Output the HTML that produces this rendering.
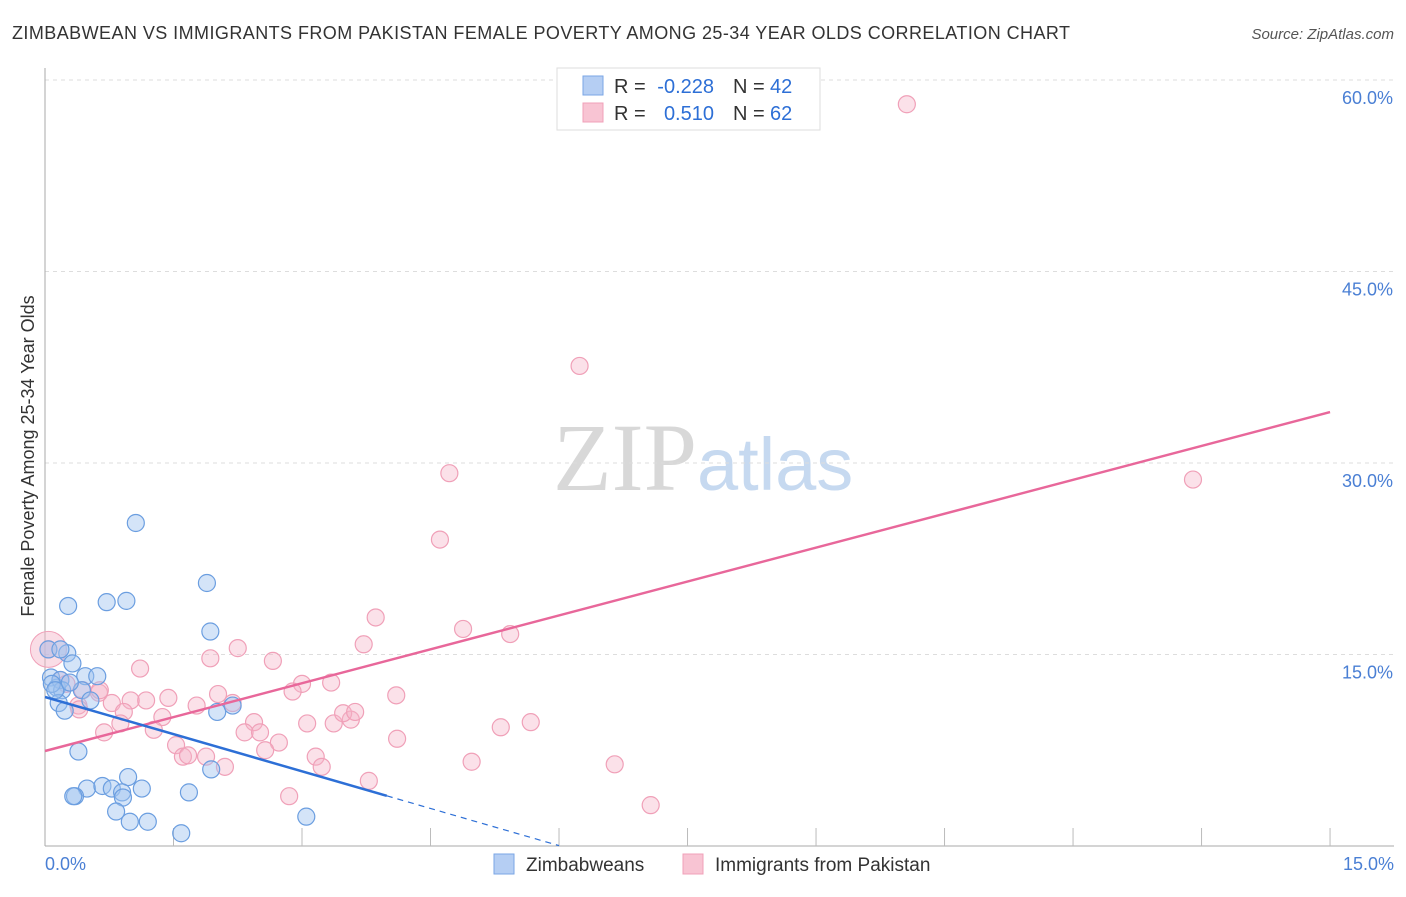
<!DOCTYPE html>
<html><head><meta charset="utf-8"><style>
body{margin:0;background:#fff;font-family:"Liberation Sans",sans-serif;}
svg text{font-family:"Liberation Sans",sans-serif;}
</style></head><body>
<svg id="chart" width="1406" height="892" xmlns="http://www.w3.org/2000/svg">
<text x="12" y="39" font-size="18" fill="#333" textLength="1058" lengthAdjust="spacing">ZIMBABWEAN VS IMMIGRANTS FROM PAKISTAN FEMALE POVERTY AMONG 25-34 YEAR OLDS CORRELATION CHART</text>
<text x="1394" y="39" font-size="15" fill="#555" text-anchor="end" font-style="italic">Source: ZipAtlas.com</text>
<text x="553" y="490" font-size="96"><tspan font-family="Liberation Serif" fill="#d8d8d8">ZIP</tspan><tspan fill="#c6d9f0" font-size="74">atlas</tspan></text>
<g id="grid"></g>
<g id="axes"></g>
<text transform="translate(34,456) rotate(-90)" font-size="18" fill="#333" text-anchor="middle">Female Poverty Among 25-34 Year Olds</text>
<g id="marks"></g>
<g>
<rect x="557" y="68" width="263" height="62" fill="#fff" stroke="#ddd"/>
<rect x="583" y="76" width="20" height="19" fill="#b5cef3" stroke="#7aa6e6"/>
<rect x="583" y="103" width="20" height="19" fill="#f8c4d3" stroke="#f0a0b8"/>
<text x="614" y="93" font-size="20" fill="#333">R =</text>
<text x="714" y="93" font-size="20" fill="#2d6fd6" text-anchor="end">-0.228</text>
<text x="733" y="93" font-size="20" fill="#333">N =</text>
<text x="770" y="93" font-size="20" fill="#2d6fd6">42</text>
<text x="614" y="120" font-size="20" fill="#333">R =</text>
<text x="714" y="120" font-size="20" fill="#2d6fd6" text-anchor="end">0.510</text>
<text x="733" y="120" font-size="20" fill="#333">N =</text>
<text x="770" y="120" font-size="20" fill="#2d6fd6">62</text>
</g>
<g>
<rect x="494" y="854" width="20" height="20" fill="#b5cef3" stroke="#7aa6e6"/>
<text x="526" y="871" font-size="19" fill="#333">Zimbabweans</text>
<rect x="683" y="854" width="20" height="20" fill="#f8c4d3" stroke="#f0a0b8"/>
<text x="715" y="871" font-size="19" fill="#333">Immigrants from Pakistan</text>
</g>
</svg>
<script>
const yTicks=[15,30,45,60];
const xTickLabels=["0.0%","15.0%"];
const blueX=[1.06,.27,.72,.95,1.89,1.93,.26,.32,.04,.07,.14,.18,.20,.47,.61,.43,.16,.23,2.01,2.19,.39,.49,.35,.33,.67,.78,.97,.90,.91,1.13,.83,.99,1.20,1.59,1.68,1.94,3.05,.08,.12,.29,.53,.18];
const blueY=[25.3,18.8,19.1,19.2,20.6,16.8,15.1,14.3,15.4,13.2,12.4,13.0,12.2,13.3,13.3,12.2,11.2,10.6,10.5,11.0,7.4,4.5,3.9,3.9,4.7,4.5,5.4,4.2,3.8,4.5,2.7,1.9,1.9,1.0,4.2,6.0,2.3,12.7,12.2,12.8,11.4,15.4];
const pinkX=[10.06,6.24,4.72,13.40,4.61,3.86,3.72,4.88,5.43,2.25,1.93,2.66,1.11,.04,4.10,3.00,3.34,2.89,2.02,2.19,1.77,1.44,1.18,1.00,.78,.63,.44,.39,.40,.92,1.37,1.27,.88,.69,2.44,2.33,2.51,2.73,2.57,3.06,3.37,3.57,3.48,3.62,1.53,1.61,1.67,1.88,2.10,3.16,3.23,4.11,5.32,5.67,4.98,3.78,2.85,6.65,7.07,.18,.64,.25];
const pinkY=[58.1,37.6,29.2,28.7,24.0,17.9,15.8,17.0,16.6,15.5,14.7,14.5,13.9,15.4,11.8,12.7,12.8,12.1,11.9,11.2,11.0,11.6,11.4,11.4,11.2,12.0,12.2,11.0,10.7,10.5,10.1,9.1,9.6,8.9,9.7,8.9,8.9,8.1,7.5,9.6,9.6,9.9,10.4,10.5,7.9,7.0,7.1,7.0,6.2,7.0,6.2,8.4,9.3,9.7,6.6,5.1,3.9,6.4,3.2,13.0,12.2,12.7];
const blueLine=[11.67,-1.94];   // intercept, slope
const pinkLine=[7.44,1.77];
const blueSolidEnd=3.99, blueDashEnd=6.0;

const NS="http://www.w3.org/2000/svg";
const X=v=>45+v*85.67, Y=v=>846-v*12.767;
function mk(t,a,p){const e=document.createElementNS(NS,t);for(const k in a)e.setAttribute(k,a[k]);p.appendChild(e);return e;}
const grid=document.getElementById('grid'),axes=document.getElementById('axes'),marks=document.getElementById('marks');
yTicks.forEach(t=>{
 const l=mk('line',{x1:45,x2:1394,y1:Y(t),y2:Y(t),stroke:'#ddd','stroke-dasharray':'4,4'},grid);
 
 
 const tx=mk('text',{x:1393,y:Y(t)+24,'font-size':18,fill:'#4a7fd4','text-anchor':'end'},axes);
 tx.textContent=t.toFixed(1)+'%';
 
 
});
const ax=mk('line',{x1:45,x2:1394,y1:846,y2:846,stroke:'#aaa'},axes);


const ay=mk('line',{x1:45,x2:45,y1:68,y2:846,stroke:'#aaa'},axes);


for(let i=1;i<=10;i++){const tk=mk('line',{x1:X(i*1.5),x2:X(i*1.5),y1:828,y2:846,stroke:'#bbb'},axes);
 
 }
const xl0=mk('text',{x:45,y:870,'font-size':18,fill:'#4a7fd4'},axes);xl0.textContent=xTickLabels[0];


const xl1=mk('text',{x:1394,y:870,'font-size':18,fill:'#4a7fd4','text-anchor':'end'},axes);xl1.textContent=xTickLabels[1];


const bp=mk('circle',{cx:X(0.04),cy:Y(15.4),r:18,fill:'rgba(245,180,200,0.45)',stroke:'#f0a0b8'},marks);


pinkX.forEach((v,i)=>{const c=mk('circle',{cx:X(v),cy:Y(pinkY[i]),r:8.5,fill:'rgba(245,180,200,0.4)',stroke:'#f0a0b8','stroke-width':1.2},marks);
 
 });
blueX.forEach((v,i)=>{const c=mk('circle',{cx:X(v),cy:Y(blueY[i]),r:8.5,fill:'rgba(160,195,240,0.45)',stroke:'#6b9ee0','stroke-width':1.2},marks);
 
 });
const pl=mk('line',{x1:X(0),y1:Y(pinkLine[0]),x2:X(15),y2:Y(pinkLine[0]+pinkLine[1]*15),stroke:'#e8679a','stroke-width':2.5},marks);


const bl=mk('line',{x1:X(0),y1:Y(blueLine[0]),x2:X(blueSolidEnd),y2:Y(blueLine[0]+blueLine[1]*blueSolidEnd),stroke:'#2d6fd6','stroke-width':2.5},marks);


const bd=mk('line',{x1:X(blueSolidEnd),y1:Y(blueLine[0]+blueLine[1]*blueSolidEnd),x2:X(blueDashEnd),y2:Y(blueLine[0]+blueLine[1]*blueDashEnd),stroke:'#2d6fd6','stroke-width':1.2,'stroke-dasharray':'6,5'},marks);


</script>
</body></html>
